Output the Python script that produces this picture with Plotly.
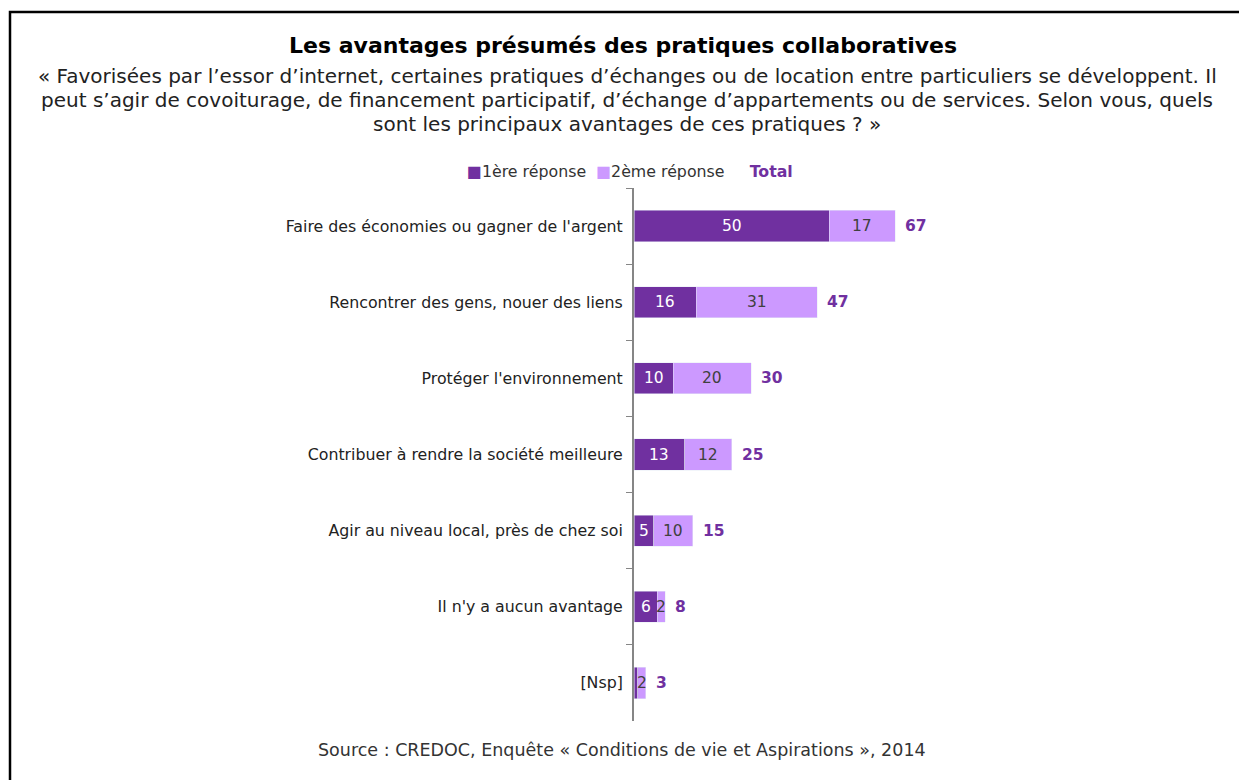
import plotly.graph_objects as go

categories = [
    "Faire des économies ou gagner de l'argent",
    "Rencontrer des gens, nouer des liens",
    "Protéger l'environnement",
    "Contribuer à rendre la société meilleure",
    "Agir au niveau local, près de chez soi",
    "Il n'y a aucun avantage",
    "[Nsp]",
]
first = [50, 16, 10, 13, 5, 6, 1]
second = [17, 31, 20, 12, 10, 2, 2]
total = [67, 47, 30, 25, 15, 8, 3]

subtitle_lines = [
    "« Favorisées par l’essor d’internet, certaines pratiques d’échanges ou de location entre particuliers se développent. Il",
    "peut s’agir de covoiturage, de financement participatif, d’échange d’appartements ou de services. Selon vous, quels",
    "sont les principaux avantages de ces pratiques ? »",
]

DARK = "#7030A0"
LIGHT = "#CC99FF"
FONT = "DejaVu Sans"

OFF = 8  # page body margin
W, H = 1247 - OFF, 780 - OFF
ML, MR, MT, MB = 634 - OFF, 97, 188 - OFF, H - (721 - OFF)
plot_w = W - ML - MR
xmax = plot_w / 3.9
plot_h = H - MT - MB

def py(y):
    return (H - MB - (y - OFF)) / plot_h

def px(x):
    return ((x - OFF) - ML) / plot_w

fig = go.Figure()
fig.add_trace(go.Bar(y=categories, x=first, orientation="h", marker_color=DARK,
                     name="1ère réponse", width=0.41, hoverinfo="x+y"))
fig.add_trace(go.Bar(y=categories, x=second, orientation="h", marker_color=LIGHT,
                     name="2ème réponse", width=0.41, base=first, hoverinfo="x+y"))

ann = []
for c, a, b, t in zip(categories, first, second, total):
    if a > 1:
        ann.append(dict(x=a / 2, y=c, xref="x", yref="y", text=str(a), showarrow=False,
                        font=dict(family=FONT, size=15.5, color="white")))
    ann.append(dict(x=a + b / 2, y=c, xref="x", yref="y", text=str(b), showarrow=False,
                    font=dict(family=FONT, size=15.5, color="#404040")))
    ann.append(dict(x=t, y=c, xref="x", yref="y", text="<b>%d</b>" % t, showarrow=False,
                    xanchor="left", xshift=8,
                    font=dict(family=FONT, size=15.5, color=DARK)))

ann.append(dict(x=px(623), y=py(45), xref="paper", yref="paper", showarrow=False,
                xanchor="center", yanchor="middle",
                text="<b>Les avantages présumés des pratiques collaboratives</b>",
                font=dict(family=FONT, size=22, color="black")))
for line, ypos in zip(subtitle_lines, [76, 100, 124]):
    ann.append(dict(x=px(627), y=py(ypos), xref="paper", yref="paper", showarrow=False,
                    xanchor="center", yanchor="middle", text=line,
                    font=dict(family=FONT, size=20, color="#222")))
ann.append(dict(x=px(630), y=py(171), xref="paper", yref="paper", showarrow=False,
                xanchor="center", yanchor="middle",
                text=("<span style='color:%s'>■</span>1ère réponse &nbsp;"
                      "<span style='color:%s'>■</span>2ème réponse &nbsp;&nbsp;&nbsp;&nbsp;"
                      "<b><span style='color:%s'>Total</span></b>") % (DARK, LIGHT, DARK),
                font=dict(family=FONT, size=15.8, color="#333")))
ann.append(dict(x=px(622), y=py(750), xref="paper", yref="paper", showarrow=False,
                xanchor="center", yanchor="middle",
                text="Source : CREDOC, Enquête « Conditions de vie et Aspirations », 2014",
                font=dict(family=FONT, size=17.5, color="#333")))

fig.update_layout(
    width=W, height=H, barmode="stack", showlegend=False,
    margin=dict(l=ML, r=MR, t=MT, b=MB),
    paper_bgcolor="white", plot_bgcolor="white",
    annotations=ann,
    xaxis=dict(range=[0, xmax], visible=False, fixedrange=True),
    yaxis=dict(autorange=False, range=[6.5, -0.5], showline=True, linecolor="#868686",
               linewidth=2, ticks="outside", ticklen=6, tickcolor="#868686", tickwidth=1,
               tickson="boundaries", showgrid=False, zeroline=False,
               tickfont=dict(family=FONT, size=15.8, color="#222"), ticklabelstandoff=6),
    shapes=[dict(type="rect", xref="paper", yref="paper",
                 x0=px(10), x1=px(1270), y0=py(12), y1=py(800),
                 line=dict(color="black", width=2.5), layer="below")],
)

fig.write_html("out.html")
